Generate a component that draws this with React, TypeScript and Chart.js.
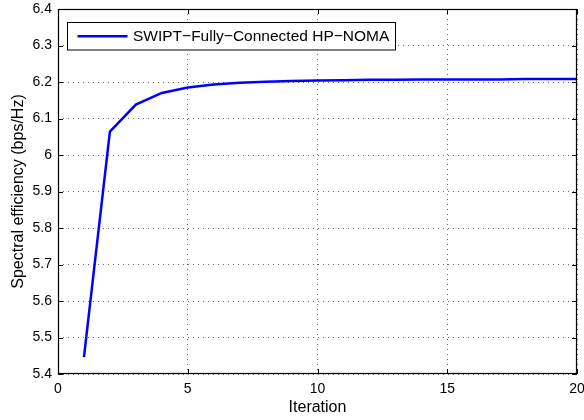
import React, { useEffect, useRef } from "react";
import { Chart, registerables } from "chart.js";

Chart.register(...registerables);

const iterations = [1, 2, 3, 4, 5, 6, 7, 8, 9, 10, 11, 12, 13, 14, 15, 16, 17, 18, 19, 20];
const spectralEfficiency = [
  5.446, 6.064, 6.138, 6.17, 6.185, 6.193, 6.198, 6.201, 6.203, 6.204,
  6.205, 6.206, 6.206, 6.207, 6.207, 6.207, 6.207, 6.208, 6.208, 6.208,
];
const xTicks = [0, 5, 10, 15, 20];
const yTicks = [5.4, 5.5, 5.6, 5.7, 5.8, 5.9, 6, 6.1, 6.2, 6.3, 6.4];
const seriesLabel = "SWIPT\u2212Fully\u2212Connected HP\u2212NOMA";
const xTitle = "Iteration";
const yTitle = "Spectral efficiency (bps/Hz)";

const FONT = "'Liberation Sans', Arial, Helvetica, sans-serif";

const framePlugin = {
  id: "matlabFrame",
  afterDraw(chart: any) {
    const { ctx, chartArea: a, scales } = chart;
    const x = scales.x;
    const y = scales.y;
    ctx.save();
    ctx.strokeStyle = "#000";
    ctx.lineWidth = 1;
    // inward ticks
    ctx.beginPath();
    const tl = 5;
    xTicks.forEach((v) => {
      const px = Math.round(x.getPixelForValue(v)) + 0.5;
      ctx.moveTo(px, a.bottom);
      ctx.lineTo(px, a.bottom - tl);
      ctx.moveTo(px, a.top);
      ctx.lineTo(px, a.top + tl);
    });
    yTicks.forEach((v) => {
      const py = Math.round(y.getPixelForValue(v)) + 0.5;
      ctx.moveTo(a.left, py);
      ctx.lineTo(a.left + tl, py);
      ctx.moveTo(a.right, py);
      ctx.lineTo(a.right - tl, py);
    });
    ctx.stroke();
    // frame
    ctx.lineWidth = 1.2;
    ctx.strokeRect(a.left + 0.5, a.top + 0.5, a.right - a.left - 1, a.bottom - a.top - 1);

    // legend box
    const ds = chart.data.datasets[0];
    const bx = 67.5, by = 22.5, bw = 328, bh = 27.5;
    ctx.fillStyle = "#fff";
    ctx.fillRect(bx, by, bw, bh);
    ctx.lineWidth = 1;
    ctx.strokeStyle = "#000";
    ctx.strokeRect(bx, by, bw, bh);
    const cy = by + bh / 2;
    ctx.beginPath();
    ctx.strokeStyle = ds.borderColor;
    ctx.lineWidth = 2.5;
    ctx.moveTo(bx + 10, cy);
    ctx.lineTo(bx + 60, cy);
    ctx.stroke();
    ctx.fillStyle = "#000";
    ctx.font = `15.5px ${FONT}`;
    ctx.textBaseline = "middle";
    ctx.textAlign = "left";
    ctx.fillText(ds.label, bx + 65.5, cy + 0.5);
    ctx.restore();
  },
};

export default function App() {
  const ref = useRef<HTMLCanvasElement | null>(null);

  useEffect(() => {
    document.body.style.margin = "0";
    const canvas = ref.current;
    if (!canvas) return;
    const chart = new Chart(canvas, {
      type: "line",
      data: {
        datasets: [
          {
            label: seriesLabel,
            data: iterations.map((it, i) => ({ x: it, y: spectralEfficiency[i] })),
            borderColor: "#0000ff",
            borderWidth: 2.5,
            pointRadius: 0,
            tension: 0,
            fill: false,
          },
        ],
      },
      options: {
        animation: false,
        responsive: false,
        devicePixelRatio: 1,
        layout: { padding: { top: 9, right: 7, left: 0, bottom: 0 } },
        plugins: { legend: { display: false }, tooltip: { enabled: false } },
        scales: {
          x: {
            type: "linear",
            min: 0,
            max: 20,
            afterBuildTicks: (s: any) => {
              s.ticks = xTicks.map((v) => ({ value: v }));
            },
            afterFit: (s: any) => {
              s.height = 46;
              s.paddingLeft = 0;
              s.paddingRight = 0;
            },
            ticks: {
              color: "#000",
              font: { family: FONT, size: 14 },
              padding: 7,
              maxRotation: 0,
              callback: (v: any) => String(v),
            },
            grid: { color: "rgba(0,0,0,0.6)", lineWidth: 1, tickLength: 0, drawTicks: false },
            border: { display: false, dash: [1, 4] },
            title: {
              display: true,
              text: xTitle,
              color: "#000",
              font: { family: FONT, size: 16 },
              padding: { top: 0, bottom: 3 },
            },
          },
          y: {
            type: "linear",
            min: 5.4,
            max: 6.4,
            afterBuildTicks: (s: any) => {
              s.ticks = yTicks.map((v) => ({ value: v }));
            },
            afterFit: (s: any) => {
              s.width = 58;
              s.paddingTop = 0;
              s.paddingBottom = 0;
            },
            ticks: {
              color: "#000",
              font: { family: FONT, size: 14 },
              padding: 6,
              callback: (v: any) => String(Math.round(Number(v) * 10) / 10),
            },
            grid: { color: "rgba(0,0,0,0.6)", lineWidth: 1, tickLength: 0, drawTicks: false },
            border: { display: false, dash: [1, 4] },
            title: {
              display: true,
              text: yTitle,
              color: "#000",
              font: { family: FONT, size: 16 },
              padding: { top: 9, bottom: 0 },
            },
          },
        },
      },
      plugins: [framePlugin],
    });
    return () => chart.destroy();
  }, []);

  return (
    <div style={{ position: "fixed", left: 0, top: 0, width: 584, height: 420, background: "#fff" }}>
      <canvas ref={ref} width={584} height={420} style={{ display: "block" }} />
    </div>
  );
}
